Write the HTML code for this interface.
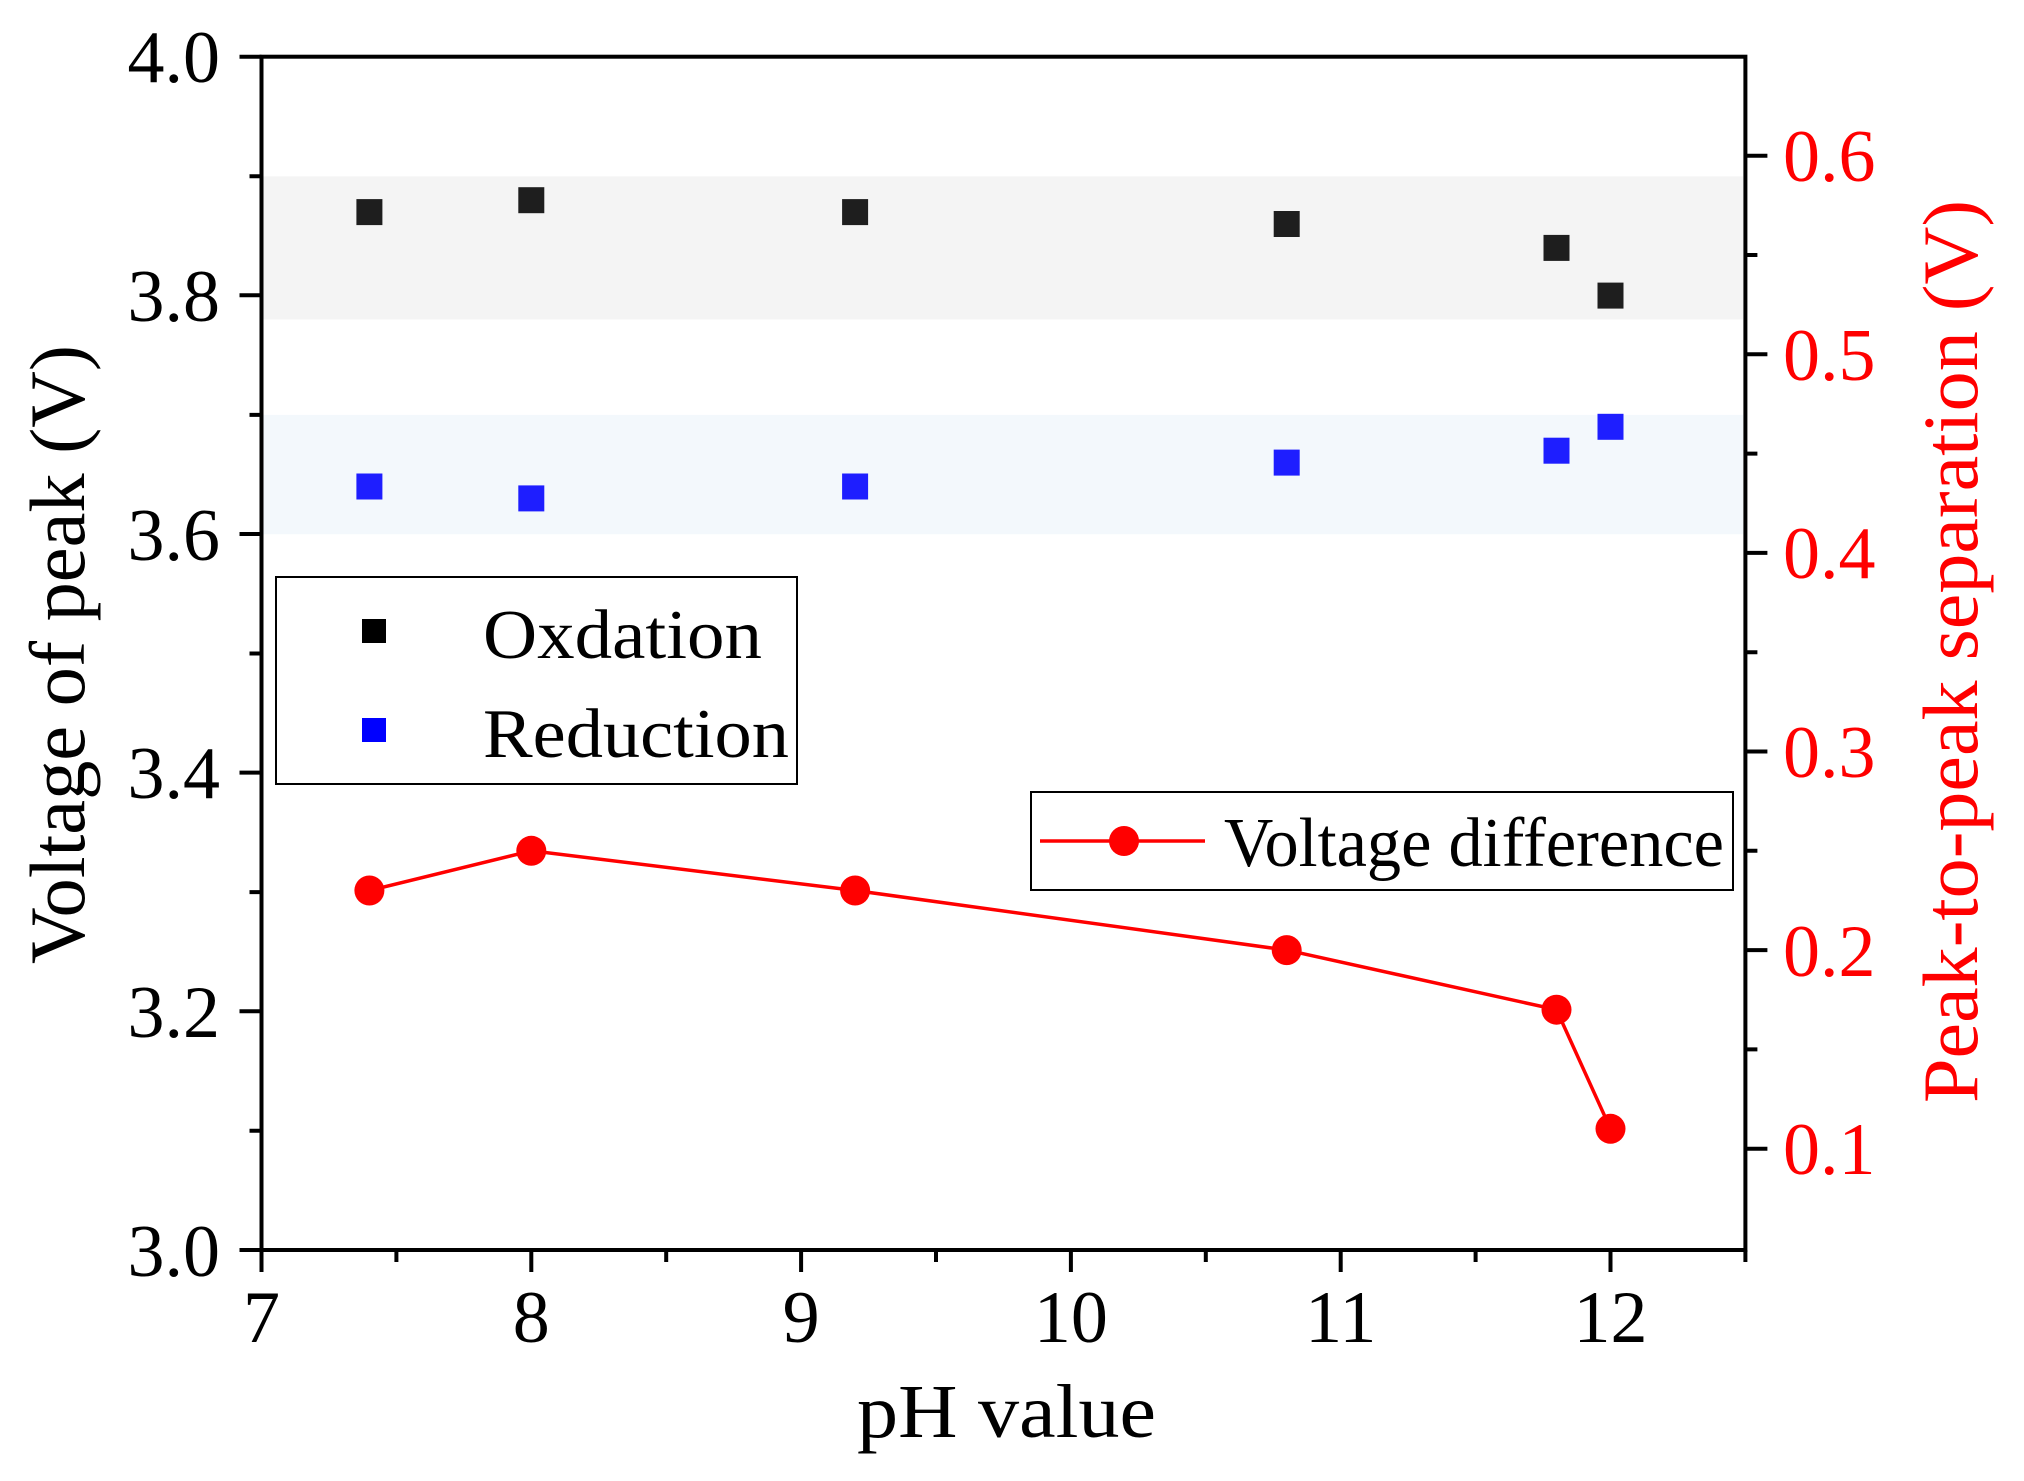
<!DOCTYPE html>
<html><head><meta charset="utf-8"><style>
html,body{margin:0;padding:0;background:#fff;}
svg{display:block;}
text{font-family:"Liberation Serif",serif;}
</style></head><body>
<svg width="2024" height="1481" viewBox="0 0 2024 1481" xmlns="http://www.w3.org/2000/svg">
<rect width="2024" height="1481" fill="#fff"/>
<rect x="263" y="176.3" width="1480" height="143.2" fill="#f4f4f4"/>
<rect x="263" y="414.9" width="1480" height="119.3" fill="#f3f8fc"/>
<g stroke="#000" stroke-width="4" fill="none">
<rect x="261.5" y="56.7" width="1483.9" height="1193.3"/>
<path d="M261.5 56.7h-22M261.5 295.3h-22M261.5 534h-22M261.5 772.6h-22M261.5 1011.3h-22M261.5 1250h-22"/>
<path d="M261.5 176.3h-12M261.5 414.9h-12M261.5 653.5h-12M261.5 892.1h-12M261.5 1130.7h-12"/>
<path d="M261.5 1250v22M531.3 1250v22M801.1 1250v22M1070.9 1250v22M1340.7 1250v22M1610.5 1250v22"/>
<path d="M396.4 1250v12M666.2 1250v12M936 1250v12M1205.8 1250v12M1475.6 1250v12M1745.4 1250v12"/>
<path d="M1745.4 155.7h22M1745.4 354.3h22M1745.4 552.9h22M1745.4 751.5h22M1745.4 950.1h22M1745.4 1148.7h22"/>
<path d="M1745.4 255h12M1745.4 453.6h12M1745.4 652.2h12M1745.4 850.8h12M1745.4 1049.4h12"/>
</g>
<g font-size="74" text-anchor="end" fill="#000">
<text x="220" y="82">4.0</text>
<text x="220" y="321">3.8</text>
<text x="220" y="560">3.6</text>
<text x="220" y="798">3.4</text>
<text x="220" y="1037">3.2</text>
<text x="220" y="1276">3.0</text>
</g>
<g font-size="74" text-anchor="middle" fill="#000">
<text x="261.5" y="1342">7</text>
<text x="531.3" y="1342">8</text>
<text x="801.1" y="1342">9</text>
<text x="1070.9" y="1342">10</text>
<text x="1340.7" y="1342">11</text>
<text x="1610.5" y="1342">12</text>
</g>
<g font-size="74" fill="#ff0000">
<text x="1783" y="181">0.6</text>
<text x="1783" y="380">0.5</text>
<text x="1783" y="578">0.4</text>
<text x="1783" y="777">0.3</text>
<text x="1783" y="976">0.2</text>
<text x="1783" y="1174">0.1</text>
</g>
<text x="857" y="1437" font-size="76" fill="#000" textLength="299" lengthAdjust="spacingAndGlyphs">pH value</text>
<text transform="translate(84,964) rotate(-90)" font-size="78" fill="#000" textLength="619" lengthAdjust="spacingAndGlyphs">Voltage of peak (V)</text>
<text transform="translate(1977,1103) rotate(-90)" font-size="78" fill="#ff0000" textLength="903" lengthAdjust="spacingAndGlyphs">Peak-to-peak separation (V)</text>
<g fill="#1e1e1e">
<rect x="356.4" y="199.1" width="26" height="26"/>
<rect x="518.3" y="187.2" width="26" height="26"/>
<rect x="842.1" y="199.1" width="26" height="26"/>
<rect x="1273.7" y="211" width="26" height="26"/>
<rect x="1543.5" y="234.9" width="26" height="26"/>
<rect x="1597.5" y="282.6" width="26" height="26"/>
</g>
<g fill="#1e1eff">
<rect x="356.4" y="473.5" width="26" height="26"/>
<rect x="518.3" y="485.4" width="26" height="26"/>
<rect x="842.1" y="473.5" width="26" height="26"/>
<rect x="1273.7" y="449.6" width="26" height="26"/>
<rect x="1543.5" y="437.7" width="26" height="26"/>
<rect x="1597.5" y="413.8" width="26" height="26"/>
</g>
<polyline points="369.4,890.5 531.3,850.8 855.1,890.5 1286.7,950.1 1556.5,1009.7 1610.5,1128.8" fill="none" stroke="#ff0000" stroke-width="3.5"/>
<g fill="#ff0000">
<circle cx="369.4" cy="890.5" r="15"/>
<circle cx="531.3" cy="850.8" r="15"/>
<circle cx="855.1" cy="890.5" r="15"/>
<circle cx="1286.7" cy="950.1" r="15"/>
<circle cx="1556.5" cy="1009.7" r="15"/>
<circle cx="1610.5" cy="1128.8" r="15"/>
</g>
<rect x="276" y="577" width="521" height="207" fill="#fff" stroke="#000" stroke-width="2"/>
<rect x="362" y="619" width="24" height="24" fill="#000"/>
<rect x="362" y="718" width="24" height="24" fill="#0000ff"/>
<text x="483" y="658" font-size="70" fill="#000" textLength="279" lengthAdjust="spacingAndGlyphs">Oxdation</text>
<text x="483" y="757" font-size="70" fill="#000" textLength="306" lengthAdjust="spacingAndGlyphs">Reduction</text>
<rect x="1031" y="792" width="702" height="98" fill="#fff" stroke="#000" stroke-width="2"/>
<line x1="1040" y1="841" x2="1205" y2="841" stroke="#ff0000" stroke-width="3.5"/>
<circle cx="1124" cy="841" r="15" fill="#ff0000"/>
<text x="1224" y="866" font-size="70" fill="#000" textLength="500" lengthAdjust="spacingAndGlyphs">Voltage difference</text>
</svg>
</body></html>
